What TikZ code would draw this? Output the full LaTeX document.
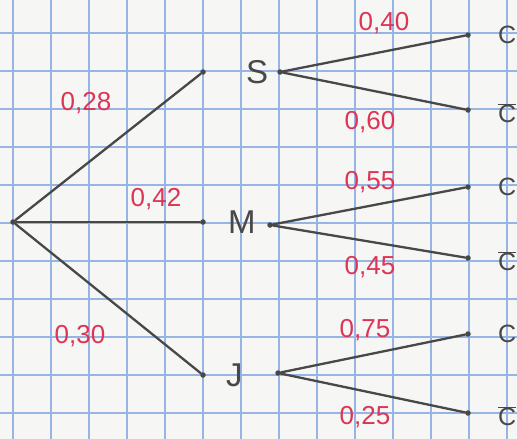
\documentclass[tikz,border=0pt]{standalone}
\usepackage{fontspec}
\setsansfont{Liberation Sans}
\usetikzlibrary{positioning}
\definecolor{paper}{RGB}{246,246,244}
\definecolor{gridblue}{RGB}{150,180,228}
\definecolor{pencil}{RGB}{72,72,72}
\definecolor{inkred}{RGB}{222,52,86}

\begin{document}
\begin{tikzpicture}[
    x=1pt, y=-1pt,
    gridline/.style={draw=gridblue, line width=1.3pt},
    branch/.style={draw=pencil, line width=2.3pt, line cap=round},
    dotnode/.style={circle, fill=pencil, inner sep=0pt, minimum size=5.5pt},
    event/.style={font=\sffamily\fontsize{33}{33}\selectfont, text=pencil, inner sep=0pt},
    leaf/.style={font=\sffamily\fontsize{25}{25}\selectfont, text=pencil, inner sep=0pt},
    prob/.style={font=\sffamily\fontsize{26}{26}\selectfont, text=inkred, inner sep=0pt},
]
% Squared paper
\fill[paper] (0,0) rectangle (517,439);
\useasboundingbox (0,0) rectangle (517,439);
\foreach \x in {13,51,...,507} \draw[gridline] (\x,0) -- (\x,439);
\foreach \y in {33,71,...,413} \draw[gridline] (0,\y) -- (517,\y);

% First level
\node[dotnode] (root) at (13,222) {};
\node[dotnode] (s) at (203,72) {};
\node[dotnode] (m) at (203,222) {};
\node[dotnode] (j) at (203,375) {};
\node[event, right=40pt of s] (labS) {S};
\node[event, right=22pt of m] (labM) {M};
\node[event, right=20pt of j] (labJ) {J};

% Second level
\node[dotnode] (s0) at (280,72) {};
\node[dotnode] (m0) at (270,225) {};
\node[dotnode] (j0) at (278,373) {};
\node[dotnode] (sc) at (468,35) {};
\node[dotnode] (scb) at (468,110) {};
\node[dotnode] (mc) at (468,187) {};
\node[dotnode] (mcb) at (468,258) {};
\node[dotnode] (jc) at (468,334) {};
\node[dotnode] (jcb) at (468,413) {};
\foreach \n in {sc,mc,jc}
    \node[leaf, right=27pt of \n] (lab\n) {C};
\foreach \n in {scb,mcb,jcb}
    \node[leaf, right=27pt of \n, yshift=-3pt] (lab\n) {$\overline{\mbox{C}}$};

\draw[branch] (root) -- (s);
\draw[branch] (root) -- (m);
\draw[branch] (root) -- (j);
\draw[branch] (s0) -- (sc);
\draw[branch] (s0) -- (scb);
\draw[branch] (m0) -- (mc);
\draw[branch] (m0) -- (mcb);
\draw[branch] (j0) -- (jc);
\draw[branch] (j0) -- (jcb);

% Probabilities
\node[prob] (p28) at (86,103) {0,28};
\node[prob] (p42) at (156,199) {0,42};
\node[prob] (p30) at (80,336) {0,30};
\node[prob] (p40) at (384,23) {0,40};
\node[prob] (p60) at (370,122) {0,60};
\node[prob] (p55) at (370,182) {0,55};
\node[prob] (p45) at (370,267) {0,45};
\node[prob] (p75) at (365,330) {0,75};
\node[prob] (p25) at (365,417) {0,25};
\end{tikzpicture}
\end{document}
